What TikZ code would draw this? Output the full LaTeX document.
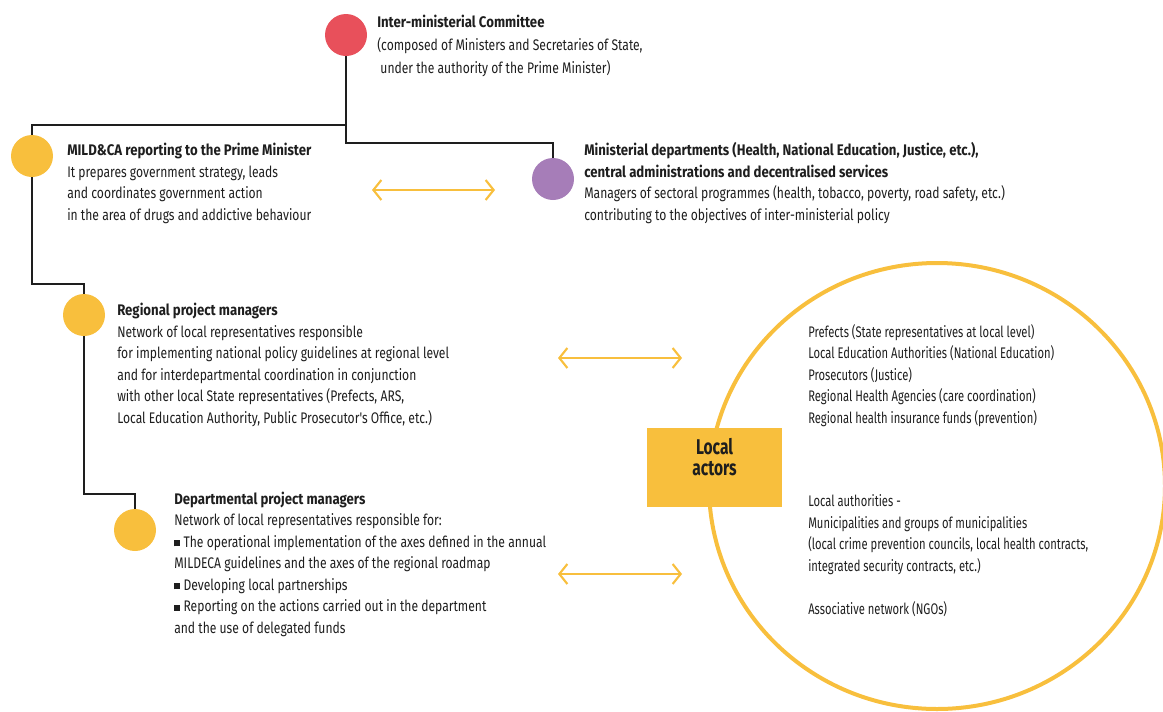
\documentclass[tikz,border=0pt]{standalone}
\usepackage{fontspec}
\setmainfont{Fira Sans}[FakeStretch=0.73, BoldFeatures={FakeStretch=0.73}]
\newfontfamily\leftf{Fira Sans}[FakeStretch=0.79, BoldFeatures={FakeStretch=0.86}]
\usetikzlibrary{arrows.meta,shapes.geometric,backgrounds}
\definecolor{cred}{HTML}{E8505B}
\definecolor{cyel}{HTML}{F8BF3D}
\definecolor{cpur}{HTML}{A67DB8}
\definecolor{ctxt}{HTML}{1E1E1E}
\newcommand{\mysq}{\rule[0.6pt]{4.5pt}{4.5pt}\hspace{2.5pt}}
\begin{document}
\begin{tikzpicture}[x=0.75pt,y=-0.75pt,
  dot/.style={circle,minimum size=31.5pt,inner sep=0pt},
  tree/.style={line width=1.3pt,draw=ctxt},
  txt/.style={anchor=base west,align=left,inner sep=0pt,text=ctxt,
    font=\fontsize{11.5}{16.1}\selectfont},
  ltxt/.style={txt,font=\leftf\fontsize{11.5}{16.1}\selectfont},
  biarrow/.style={draw=cyel,line width=1.6pt,
    {Straight Barb[length=6pt,width=15pt]}-{Straight Barb[length=6pt,width=15pt]}}
]
\clip (0,0) rectangle (1163,711);
% circles
\node[dot,fill=cred] (ic) at (346,35) {};
\node[dot,fill=cyel] (mild) at (32,156) {};
\node[dot,fill=cpur] (min) at (553,179) {};
\node[dot,fill=cyel] (reg) at (84,315) {};
\node[dot,fill=cyel] (dep) at (135,530) {};
% junctions
\coordinate (j1) at (346,125);
\coordinate (j2) at (346,143);
\coordinate (k1) at (32,284);
\coordinate (k2) at (84,494);
\begin{scope}[on background layer]
\draw[tree] (ic) -- (j1) -| (mild);
\draw[tree] (j1) -- (j2) -| (min);
\draw[tree] (mild) -- (k1) -| (reg);
\draw[tree] (reg) -- (k2) -| (dep);
\end{scope}
% texts
\node[ltxt,font=\leftf\fontsize{11.5}{17.2}\selectfont] (ictx) at (377,73) {\textbf{Inter-ministerial Committee}\\(composed of Ministers and Secretaries of State,\\\ under the authority of the Prime Minister)};
\node[ltxt] (mildtx) at (67,220) {\textbf{MILD\&CA reporting to the Prime Minister}\\It prepares government strategy, leads\\and coordinates government action\\in the area of drugs and addictive behaviour};
\node[ltxt] (mintx) at (584,220) {\textbf{Ministerial departments (Health, National Education, Justice, etc.),}\\\textbf{central administrations and decentralised services}\\Managers of sectoral programmes (health, tobacco, poverty, road safety, etc.)\\contributing to the objectives of inter-ministerial policy};
\node[ltxt] (regtx) at (117,423) {\textbf{Regional project managers}\\Network of local representatives responsible\\for implementing national policy guidelines at regional level\\and for interdepartmental coordination in conjunction\\with other local State representatives (Prefects, ARS,\\Local Education Authority, Public Prosecutor's Office, etc.)};
\node[ltxt] (deptx) at (174,633) {\textbf{Departmental project managers}\\Network of local representatives responsible for:\\\mysq The operational implementation of the axes defined in the annual\\MILDECA guidelines and the axes of the regional roadmap\\\mysq Developing local partnerships\\\mysq Reporting on the actions carried out in the department\\and the use of delegated funds};
% ring and box
\node[ellipse,draw=cyel,line width=3pt,minimum width=342pt,minimum height=334.5pt,inner sep=0pt] (ring) at (937,486) {};
\node[fill=cyel,minimum width=101.25pt,minimum height=59.25pt,inner sep=0pt] (box) at (714.5,467.5) {};
\node[align=center,inner sep=0pt,text=ctxt,font=\fontsize{16}{15.8}\selectfont\bfseries] (boxtx) at ([yshift=7.5pt]box.center) {Local\\actors};
\node[txt] (statetx) at (808,423) {Prefects (State representatives at local level)\\Local Education Authorities (National Education)\\Prosecutors (Justice)\\Regional Health Agencies (care coordination)\\Regional health insurance funds (prevention)};
\node[txt] (loctx) at (808,571) {Local authorities -\\Municipalities and groups of municipalities\\(local crime prevention councils, local health contracts,\\integrated security contracts, etc.)};
\node[txt] (ngotx) at (808,614) {Associative network (NGOs)};
% arrows
\coordinate (a1l) at (372,190); \coordinate (a1r) at (495,190);
\coordinate (a2l) at (558,358); \coordinate (a2r) at (682,358);
\coordinate (a3l) at (558,574); \coordinate (a3r) at (682,574);
\draw[biarrow] (a1l) -- (a1r);
\draw[biarrow] (a2l) -- (a2r);
\draw[biarrow] (a3l) -- (a3r);
\end{tikzpicture}
\end{document}
